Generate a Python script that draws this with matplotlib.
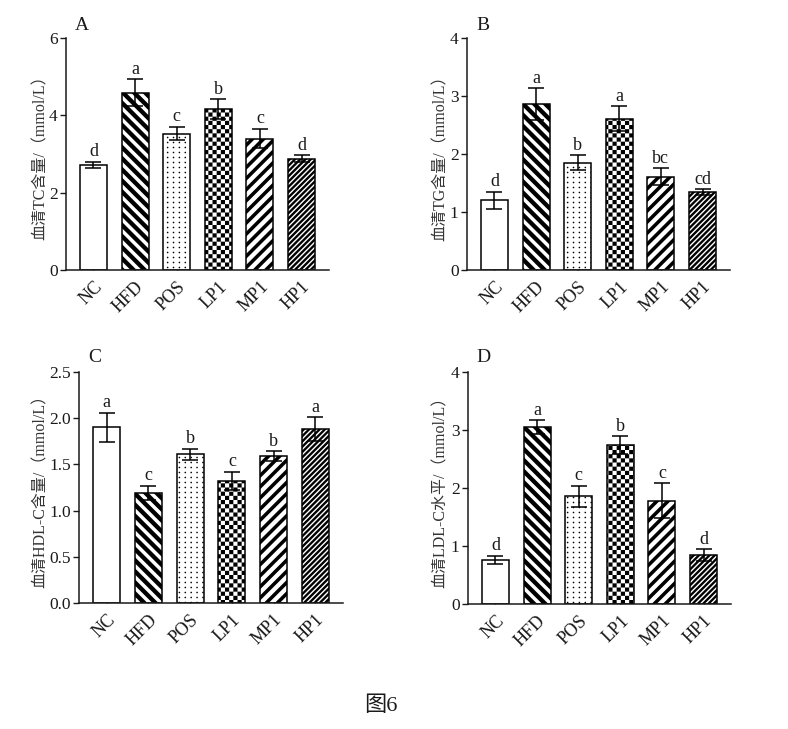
import matplotlib
matplotlib.use("Agg")
import matplotlib.pyplot as plt
import numpy as np
from matplotlib.path import Path
from matplotlib.backend_bases import GraphicsContextBase
from matplotlib.ticker import FormatStrFormatter

# ---------------- data ----------------
groups = ["NC", "HFD", "POS", "LP1", "MP1", "HP1"]

tc_mean = [2.72, 4.59, 3.53, 4.16, 3.40, 2.88]
tc_err = [0.08, 0.35, 0.18, 0.26, 0.25, 0.09]
tc_sig = ["d", "a", "c", "b", "c", "d"]

tg_mean = [1.20, 2.86, 1.85, 2.61, 1.61, 1.34]
tg_err = [0.15, 0.27, 0.13, 0.21, 0.15, 0.05]
tg_sig = ["d", "a", "b", "a", "bc", "cd"]

hdl_mean = [1.90, 1.19, 1.61, 1.32, 1.59, 1.88]
hdl_err = [0.16, 0.08, 0.06, 0.10, 0.05, 0.13]
hdl_sig = ["a", "c", "b", "c", "b", "a"]

ldl_mean = [0.76, 3.05, 1.86, 2.74, 1.78, 0.84]
ldl_err = [0.07, 0.12, 0.18, 0.15, 0.30, 0.10]
ldl_sig = ["d", "a", "c", "b", "c", "d"]

panel_letters = ["A", "B", "C", "D"]
ylabels = ["血清TC含量/（mmol/L）", "血清TG含量/（mmol/L）",
           "血清HDL-C含量/（mmol/L）", "血清LDL-C水平/（mmol/L）"]
yticks_list = [[0, 2, 4, 6], [0, 1, 2, 3, 4],
               [0.0, 0.5, 1.0, 1.5, 2.0, 2.5], [0, 1, 2, 3, 4]]
caption = "图6"

# ---------------- custom hatch textures ----------------
MOVETO, LINETO, CLOSE = Path.MOVETO, Path.LINETO, Path.CLOSEPOLY


def stripe_path(n, frac, direction):
    verts, codes = [], []
    d = frac / n
    for k in range(-2 * n - 2, 2 * n + 3):
        a = k / n
        if direction > 0:
            pts = [(-1, -1 - a), (2, 2 - a), (2, 2 - a - d), (-1, -1 - a - d), (0, 0)]
        else:
            pts = [(-1, 1 + a), (2, -2 + a), (2, -2 + a - d), (-1, 1 + a - d), (0, 0)]
        verts += pts
        codes += [MOVETO, LINETO, LINETO, LINETO, CLOSE]
    return Path(np.array(verts, float), codes)


def checker_path(n):
    verts, codes = [], []
    s = 1.0 / n
    for i in range(n):
        for j in range(n):
            if (i + j) % 2 == 0:
                x0, y0 = i * s, j * s
                verts += [(x0, y0), (x0 + s, y0), (x0 + s, y0 + s), (x0, y0 + s), (0, 0)]
                codes += [MOVETO, LINETO, LINETO, LINETO, CLOSE]
    return Path(np.array(verts, float), codes)


def dots_path(nx, ny, r):
    paths = []
    for i in range(nx):
        for j in range(ny):
            cx, cy = (i + 0.5) / nx, (j + 0.5) / ny
            paths.append(Path.circle((cx, cy), r))
    return Path.make_compound_path(*paths)


CUSTOM_HATCH = {
    "\\": stripe_path(9, 0.55, -1),   # HFD
    ".": dots_path(17, 20, 0.0080),    # POS
    "+": checker_path(24),             # LP1
    "/": stripe_path(9, 0.45, +1),     # MP1
    "//": stripe_path(19, 0.62, +1),   # HP1
}
_orig_get_hatch_path = GraphicsContextBase.get_hatch_path


def _custom_get_hatch_path(self, density=6.0):
    h = self.get_hatch()
    if h in CUSTOM_HATCH:
        return CUSTOM_HATCH[h]
    return _orig_get_hatch_path(self, density)


GraphicsContextBase.get_hatch_path = _custom_get_hatch_path

hatches = [None, "\\", ".", "+", "/", "//"]

# ---------------- styling ----------------
plt.rcParams["font.family"] = ["Liberation Serif", "Noto Sans CJK SC"]
plt.rcParams["hatch.linewidth"] = 0.01
plt.rcParams["hatch.color"] = "black"
plt.rcParams["axes.unicode_minus"] = False

fig = plt.figure(figsize=(7.88, 7.29), dpi=100)

W, H = 788.0, 729.0
# axes rectangles in pixels: left, right, top(y at max), bottom(y=0)
rects_px = [(66, 329, 38, 270), (467, 730, 38, 270),
            (79, 343, 372, 603), (468, 731, 372, 604)]
label_x_px = [49, 449, 49, 449]
letter_pos = [(82, 25), (483, 25), (95, 357), (483, 357)]

means = [tc_mean, tg_mean, hdl_mean, ldl_mean]
errs = [tc_err, tg_err, hdl_err, ldl_err]
sigs = [tc_sig, tg_sig, hdl_sig, ldl_sig]

x = np.arange(len(groups))
ink = "#1a1a1a"

for p in range(4):
    l, r, t, b = rects_px[p]
    ax = fig.add_axes([l / W, 1 - b / H, (r - l) / W, (b - t) / H])
    bars = ax.bar(x, means[p], width=0.65, color="white", edgecolor="black",
                  linewidth=1.1, zorder=2)
    for bar, h in zip(bars, hatches):
        if h is not None:
            bar.set_hatch(h)
    ax.errorbar(x, means[p], yerr=errs[p], fmt="none", ecolor="black",
                elinewidth=1.1, capsize=5.5, capthick=1.1, zorder=3)
    for xi, m, e, s in zip(x, means[p], errs[p], sigs[p]):
        ax.annotate(s, (xi, m + e), xytext=(0, 1.0), textcoords="offset points",
                    ha="center", va="bottom", fontsize=13, color=ink)
    yt = yticks_list[p]
    ax.set_ylim(0, yt[-1])
    ax.set_yticks(yt)
    if p == 2:
        ax.yaxis.set_major_formatter(FormatStrFormatter("%.1f"))
    ax.set_xlim(-0.66, 5.66)
    ax.set_xticks(x)
    ax.set_xticklabels(groups, rotation=45, ha="right", rotation_mode="anchor",
                       fontsize=13, color=ink)
    ax.tick_params(axis="x", direction="in", length=3, width=1.0, pad=6, colors=ink)
    ax.tick_params(axis="y", direction="out", length=4, width=1.0, pad=2,
                   labelsize=12.5, colors=ink)
    for sp in ["top", "right"]:
        ax.spines[sp].set_visible(False)
    for sp in ["left", "bottom"]:
        ax.spines[sp].set_linewidth(1.1)
        ax.spines[sp].set_color(ink)
    ax.set_ylabel(ylabels[p], fontsize=11.5, color="#333333")
    ax.yaxis.set_label_coords((label_x_px[p] - l) / (r - l), 0.5)
    fig.text(letter_pos[p][0] / W, 1 - letter_pos[p][1] / H, panel_letters[p],
             ha="center", va="center", fontsize=14, color=ink)

fig.text(381 / W, 1 - 706 / H, caption, ha="center", va="center",
         fontsize=16, color=ink)

fig.savefig("out.png", dpi=100)
